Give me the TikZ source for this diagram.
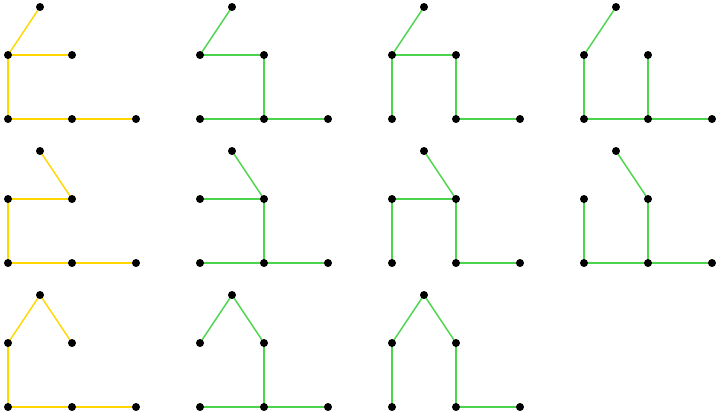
\documentclass[tikz,border=0pt]{standalone}
\usetikzlibrary{backgrounds}
\definecolor{ylw}{HTML}{FFD700}
\definecolor{grn}{HTML}{4CD44C}
\begin{document}
\begin{tikzpicture}[x=1pt,y=-1pt,
  dot/.style={circle,fill=black,inner sep=0pt,minimum size=8pt},
  edge/.style={line width=1.5pt}]
\useasboundingbox (0,0) rectangle (721,413);
\foreach \i/\ox/\oy/\col/\edges in {
  1/0/0/ylw/{A/B,B/C,B/D,D/E,E/F},
  2/192/0/grn/{A/B,B/C,C/E,D/E,E/F},
  3/384/0/grn/{A/B,B/C,B/D,C/E,E/F},
  4/576/0/grn/{A/B,B/D,C/E,D/E,E/F},
  5/0/144/ylw/{A/C,B/C,B/D,D/E,E/F},
  6/192/144/grn/{A/C,B/C,C/E,D/E,E/F},
  7/384/144/grn/{A/C,B/C,B/D,C/E,E/F},
  8/576/144/grn/{A/C,B/D,C/E,D/E,E/F},
  9/0/288/ylw/{A/B,A/C,B/D,D/E,E/F},
  10/192/288/grn/{A/B,A/C,C/E,D/E,E/F},
  11/384/288/grn/{A/B,A/C,B/D,C/E,E/F}} {
  \begin{scope}[shift={(\ox,\oy)}]
    \node[dot] (g\i A) at (40,7) {};
    \node[dot] (g\i B) at (8,55) {};
    \node[dot] (g\i C) at (72,55) {};
    \node[dot] (g\i D) at (8,119) {};
    \node[dot] (g\i E) at (72,119) {};
    \node[dot] (g\i F) at (136,119) {};
    \begin{pgfonlayer}{background}
      \foreach \u/\v in \edges
        \draw[edge,\col] (g\i\u.center) -- (g\i\v.center);
    \end{pgfonlayer}
  \end{scope}
}
\end{tikzpicture}
\end{document}
